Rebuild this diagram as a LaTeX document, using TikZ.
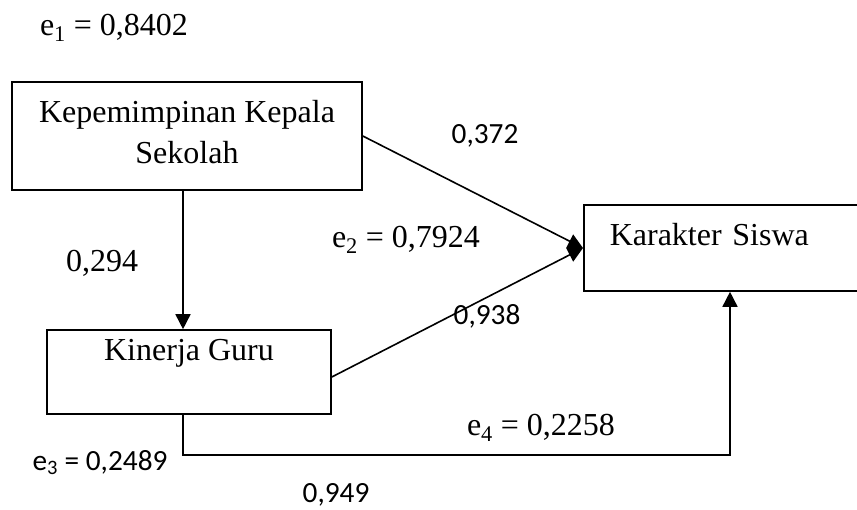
\documentclass[tikz,border=0pt]{standalone}
\usepackage{fontspec}
\setmainfont{Liberation Serif}
\newfontfamily\calfont{Carlito}
\usepackage{tikz}
\usetikzlibrary{arrows.meta}
\usetikzlibrary{calc}

\begin{document}
\begin{tikzpicture}[x=1pt, y=-1pt]
        % 定义样式:方框,文字,箭头
        \tikzstyle{boxnode}=[rectangle, draw=black, line width=1.6pt, inner sep=0pt, font=\fontsize{32}{41}\selectfont]
        \tikzstyle{tnr}=[font=\fontsize{32}{41}\selectfont, inner sep=0pt, anchor=base]
        \tikzstyle{cal}=[font=\calfont\fontsize{29.3}{35}\selectfont, inner sep=0pt, anchor=base]
        \tikzstyle{arr}=[line width=1.6pt, -{Triangle[length=15pt, width=15pt]}]

        \useasboundingbox (0,0) rectangle (857,509);

        % 三个变量方框
        \node[boxnode, minimum width=350pt, minimum height=108pt, align=center] (kks) at (187,136) {Kepemimpinan Kepala\\Sekolah\rule[-9pt]{0pt}{9pt}};
        \node[boxnode, minimum width=284pt, minimum height=84pt, text height=22pt, text depth=46pt] (kg) at (189,372) {Kinerja Guru};
        \node[boxnode, anchor=west, minimum height=86pt, text width=226pt, inner xsep=26pt, align=left, text height=22pt, text depth=28pt] (ks) at (583,248) {Karakter Siswa};

        % 路径箭头
        \draw[arr] ([xshift=-4pt]kks.south) -- ([xshift=-4pt]kks.south |- kg.north);
        \draw[arr] (kks.east) -- (ks.west);
        \draw[arr] ([yshift=-5pt]kg.east) -- (ks.west);
        \coordinate (belok) at (730,455);
        \draw[arr] ([xshift=-6pt]kg.south) |- (belok) -- (belok |- ks.south);

        % 系数与误差
        \node[tnr] (e1) at (114,35) {e\textsubscript{1} = 0,8402};
        \node[tnr] (e2) at (406,247) {e\textsubscript{2} = 0,7924};
        \node[tnr] (e4) at (541,435) {e\textsubscript{4} = 0,2258};
        \node[tnr] (p294) at (102,271) {0,294};
        \node[cal] (p372) at (485,143) {0,372};
        \node[cal] (p938) at (487,324) {0,938};
        \node[cal] (e3) at (100,470) {e\textsubscript{3} = 0,2489};
        \node[cal] (p949) at (336,502) {0,949};
    \end{tikzpicture}
\end{document}
